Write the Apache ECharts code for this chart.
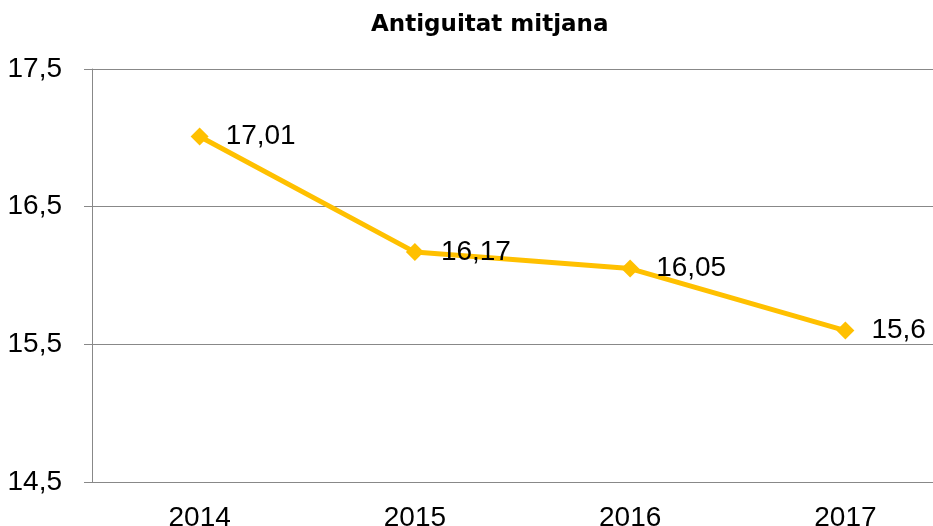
<!DOCTYPE html>
<html>
<head>
<meta charset="utf-8">
<script src="https://cdn.jsdelivr.net/npm/echarts@6/dist/echarts.min.js"></script>
<style>
	html, body { margin: 0; padding: 0; background: #fff; }
	#chart { width: 933px; height: 526px; }
</style>
</head>
<body>
<div id="chart"></div>
<script>
var years = ['2014', '2015', '2016', '2017'];
var antiguitat = [17.01, 16.17, 16.05, 15.6];
var yMin = 14.5;
var yMax = 17.5;
var yStep = 1;

function comma(v) {
	return String(v).replace('.', ',');
}

var chart = echarts.init(document.getElementById('chart'));
var font = 'Liberation Sans, Arial, sans-serif';

var option = {
	animation: false,
	title: {
		text: 'Antiguitat mitjana',
		left: 366,
		top: 9,
		textStyle: {
			fontFamily: 'DejaVu Sans',
			fontSize: 23,
			fontWeight: 'bold',
			color: '#000'
		}
	},
	// plot runs past the right edge, like the original
	grid: {
		left: 92,
		width: 861,
		top: 69,
		height: 413,
		containLabel: false,
		outerBoundsMode: 'none'
	},
	xAxis: {
		type: 'category',
		data: years,
		boundaryGap: true,
		axisLine: { lineStyle: { color: '#888', width: 1 } },
		axisTick: { length: 8, lineStyle: { color: '#888' } },
		axisLabel: {
			margin: 22,
			fontFamily: font,
			fontSize: 28,
			color: '#000'
		}
	},
	yAxis: {
		type: 'value',
		min: yMin,
		max: yMax,
		interval: yStep,
		axisLine: { show: true, lineStyle: { color: '#888', width: 1 } },
		axisTick: { show: true, length: 8, lineStyle: { color: '#888' } },
		splitLine: { lineStyle: { color: '#888', width: 1 } },
		axisLabel: {
			margin: 30,
			fontFamily: font,
			fontSize: 28,
			color: '#000',
			formatter: function (v) { return comma(v); }
		}
	},
	series: [{
		type: 'line',
		data: antiguitat,
		symbol: 'diamond',
		symbolSize: 18,
		lineStyle: { color: '#FFC000', width: 5 },
		itemStyle: { color: '#FFC000' },
		label: {
			show: true,
			position: 'right',
			distance: 17,
			fontFamily: font,
			fontSize: 28,
			color: '#000',
			formatter: function (p) { return comma(p.value); }
		}
	}]
};

chart.setOption(option);
</script>
</body>
</html>
